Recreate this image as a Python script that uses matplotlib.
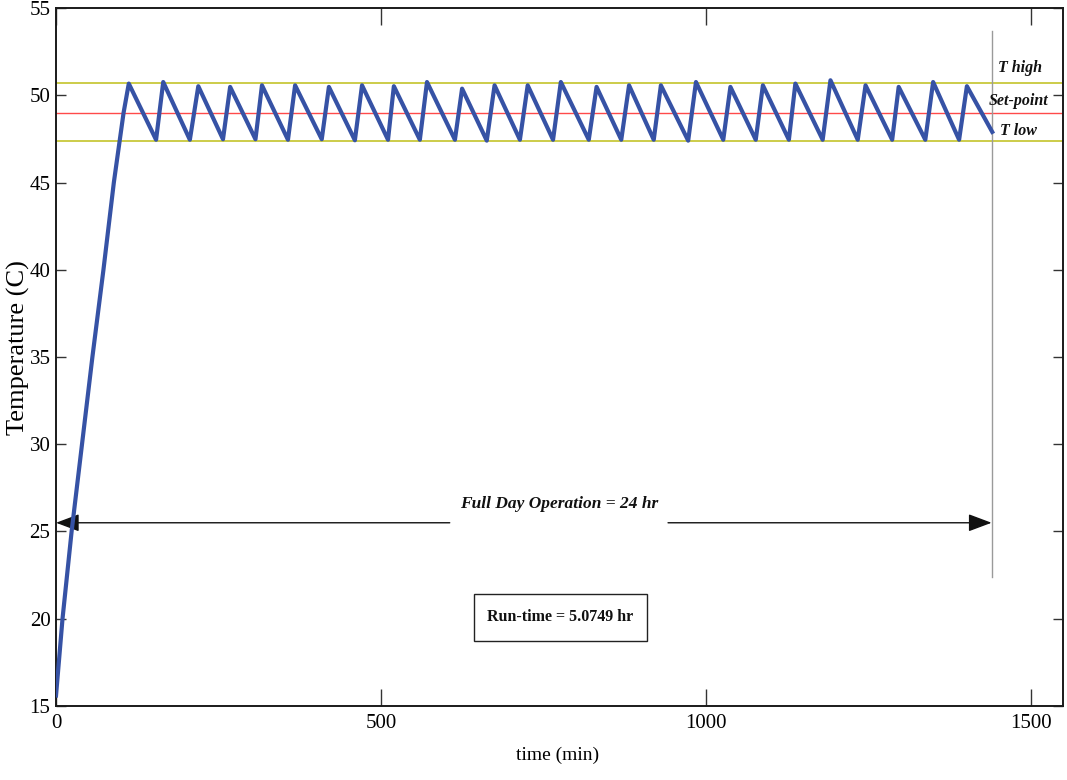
import matplotlib
matplotlib.use("Agg")
import matplotlib.pyplot as plt
from matplotlib.patches import Rectangle

plt.rcParams['font.family'] = ['Liberation Serif', 'DejaVu Serif']

# ---- data ----
ramp_t = [0, 10, 24, 40, 56, 73, 89, 104]
ramp_T = [15.6, 20.0, 25.0, 30.0, 35.0, 40.0, 45.0, 49.0]

peak_t = [112, 165, 219, 268, 317, 368, 420, 471, 520, 571, 625, 675, 726,
          777, 832, 882, 931, 985, 1038, 1088, 1138, 1192, 1246, 1297, 1350, 1402]
peak_T = [50.67, 50.76, 50.52, 50.48, 50.57, 50.57, 50.48, 50.57, 50.52, 50.76,
          50.38, 50.57, 50.57, 50.76, 50.48, 50.57, 50.57, 50.76, 50.48, 50.57,
          50.67, 50.86, 50.57, 50.48, 50.76, 50.52]
trough_t = [154, 206, 257, 307, 357, 409, 460, 511, 560, 614, 663, 714, 765,
            820, 870, 920, 973, 1027, 1077, 1128, 1180, 1234, 1287, 1338, 1390]
trough_T = [47.45, 47.45, 47.48, 47.48, 47.45, 47.48, 47.42, 47.45, 47.45, 47.45,
            47.40, 47.45, 47.45, 47.45, 47.45, 47.45, 47.40, 47.45, 47.45, 47.45,
            47.45, 47.45, 47.45, 47.45, 47.45]
end_t = 1441
end_T = 47.9

T_high = 50.72
T_set = 49.0
T_low = 47.36
day_end = 1440
run_time_hr = 5.0749

# build the temperature trace: ramp, then alternating peaks / troughs
time = list(ramp_t)
temp = list(ramp_T)
for i in range(len(peak_t)):
    time.append(peak_t[i]); temp.append(peak_T[i])
    if i < len(trough_t):
        time.append(trough_t[i]); temp.append(trough_T[i])
time.append(end_t); temp.append(end_T)

# ---- figure ----
fig = plt.figure(figsize=(10.67, 7.8), dpi=100)
ax = fig.add_axes([0.0525, 0.0949, 0.9438, 0.8948])

ax.set_xlim(0, 1550)
ax.set_ylim(15, 55)

ax.axhline(T_high, color='#c8c83c', lw=1.3, zorder=1)
ax.axhline(T_low, color='#c8c83c', lw=1.3, zorder=1)
ax.axhline(T_set, color='#ff4a4a', lw=1.0, zorder=1)
ax.plot([day_end, day_end], [22.4, 53.7], color='#9a9a9a', lw=1.0, zorder=1)

ax.plot(time, temp, color='#3652a5', lw=3.0, zorder=3)

# arrows for full day operation
arr = dict(arrowstyle='-|>,head_length=0.8,head_width=0.3', color='#111111',
           lw=1.0, shrinkA=0, shrinkB=0, mutation_scale=18)
ax.annotate('', xy=(0, 25.5), xytext=(606, 25.5), arrowprops=arr, zorder=2)
ax.annotate('', xy=(day_end, 25.5), xytext=(942, 25.5), arrowprops=arr, zorder=2)
ax.text(774, 26.55, 'Full Day Operation = 24 hr', ha='center', va='center',
        fontsize=12.5, fontweight='bold', fontstyle='italic', color='#111111')

# run-time box
ax.add_patch(Rectangle((643, 18.74), 266, 2.70, facecolor='white',
                       edgecolor='#222222', lw=1.0, zorder=4))
ax.text(776, 20.1, 'Run-time = %.4f hr' % run_time_hr, ha='center', va='center',
        fontsize=11.5, fontweight='bold', color='#111111', zorder=5)

# right-side labels
lab = dict(ha='center', va='center', fontsize=11.5, fontweight='bold',
           fontstyle='italic', color='#111111')
ax.text(1483, 51.55, 'T high', **lab)
ax.text(1482, 49.7, 'Set-point', **lab)
ax.text(1481, 47.95, 'T low', **lab)

# axes styling (MATLAB-like)
ax.set_xticks([0, 500, 1000, 1500])
ax.set_yticks([15, 20, 25, 30, 35, 40, 45, 50, 55])
ax.tick_params(axis='x', direction='in', length=12, width=1.0, color='#333333',
               top=True, bottom=True, labelsize=15, pad=6)
ax.tick_params(axis='y', direction='in', length=7, width=1.0, color='#333333',
               left=True, right=True, labelsize=15, pad=4)
for s in ax.spines.values():
    s.set_linewidth(1.4)
    s.set_color('#1a1a1a')

ax.set_xlabel('time (min)', fontsize=14)
ax.set_ylabel('Temperature (C)', fontsize=19)
ax.xaxis.set_label_coords(0.4985, -0.058)
ax.yaxis.set_label_coords(-0.026, 0.514)

fig.savefig('out.png', dpi=100)
